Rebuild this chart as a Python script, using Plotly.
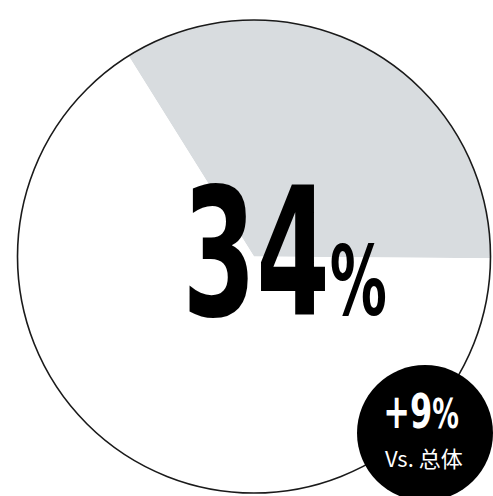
import plotly.graph_objects as go

# Share of the segment vs. the rest
slice_labels = ["目标群体", "其他"]
slice_values = [34, 66]
slice_colors = ["#d8dcdf", "#ffffff"]

# Difference against the overall population (percentage points)
delta_value = 9
delta_caption = "Vs. 总体"

W, H = 493, 496


def px_x(p):
    return p / W


def px_y(p):
    return 1 - p / H


# Main ring geometry in pixels
cx, cy, r = 254, 256.5, 236.5
# Badge geometry in pixels
bx, by, br = 425, 433, 68

fig = go.Figure(
    go.Pie(
        labels=slice_labels,
        values=slice_values,
        marker=dict(colors=slice_colors, line=dict(width=0)),
        sort=False,
        direction="clockwise",
        rotation=-32,
        textinfo="none",
        hoverinfo="skip",
        domain=dict(x=[px_x(cx - r), px_x(cx + r)], y=[px_y(cy + r), px_y(cy - r)]),
    )
)

fig.add_shape(
    type="circle", xref="paper", yref="paper", layer="above",
    x0=px_x(cx - r), x1=px_x(cx + r), y0=px_y(cy + r), y1=px_y(cy - r),
    line=dict(color="#1a1a1a", width=1.6), fillcolor="rgba(0,0,0,0)",
)
fig.add_shape(
    type="circle", xref="paper", yref="paper", layer="above",
    x0=px_x(bx - br), x1=px_x(bx + br), y0=px_y(by + br), y1=px_y(by - br),
    line=dict(width=0), fillcolor="#000000",
)

big_font = "DejaVu Sans Condensed, DejaVu Sans, sans-serif"

fig.add_annotation(
    xref="paper", yref="paper", x=px_x(284), y=px_y(253),
    xanchor="center", yanchor="middle", showarrow=False,
    text=f"{slice_values[0]}<span style='font-size:96px'>%</span>",
    font=dict(family=big_font, size=178, color="#000000", weight="bold"),
)
fig.add_annotation(
    xref="paper", yref="paper", x=px_x(421), y=px_y(411),
    xanchor="center", yanchor="middle", showarrow=False,
    text=f"+{delta_value}<span style='font-size:40px'>%</span>",
    font=dict(family=big_font, size=48, color="#ffffff", weight="bold"),
)
fig.add_annotation(
    xref="paper", yref="paper", x=px_x(424), y=px_y(457),
    xanchor="center", yanchor="middle", showarrow=False,
    text=delta_caption,
    font=dict(family="Noto Sans CJK SC, Noto Sans, sans-serif", size=22, color="#ffffff"),
)

fig.update_layout(
    width=W, height=H,
    margin=dict(l=0, r=0, t=0, b=0),
    paper_bgcolor="#ffffff",
    plot_bgcolor="#ffffff",
    showlegend=False,
)

# Narrow the bold figures so they read as a condensed display face
condense_css = """
var st = document.createElement('style');
st.textContent = '.annotation[data-index="0"] .annotation-text{transform-box:fill-box;transform-origin:center;transform:scaleX(0.66);}'
  + '.annotation[data-index="1"] .annotation-text{transform-box:fill-box;transform-origin:center;transform:scaleX(0.74);}';
document.head.appendChild(st);
"""

fig.write_html("out.html", config={"displayModeBar": False, "staticPlot": True}, post_script=condense_css)
